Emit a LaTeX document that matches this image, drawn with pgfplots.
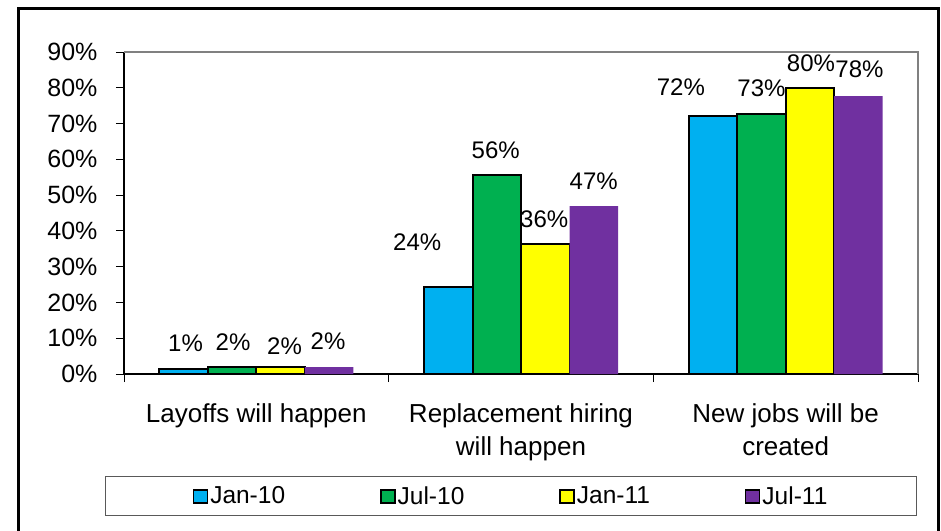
\documentclass[border=0pt]{standalone}
\usepackage{fontspec}
\setmainfont{Liberation Sans}
\usepackage{pgfplots}
\usepackage{pgfplotstable}
\pgfplotsset{compat=1.18}

\definecolor{cJanTen}{HTML}{00B0F0}
\definecolor{cJulTen}{HTML}{00B050}
\definecolor{cJanEleven}{HTML}{FFFF00}
\definecolor{cJulEleven}{HTML}{7030A0}

% x = category, y = share, lbl = printed value, dx/dy = label offset (pt) from bar top
\pgfplotstableread{
x y lbl dx dy
0 1.3 1 2 26
1 24.3 24 -31 45
2 72.1 72 -32 29
}\janten
\pgfplotstableread{
x y lbl dx dy
0 2.0 2 1 25
1 55.6 56 -1 25
2 72.7 73 0 26
}\julten
\pgfplotstableread{
x y lbl dx dy
0 2.0 2 4 21
1 36.3 36 -1 25
2 79.9 80 1 25
}\janeleven
\pgfplotstableread{
x y lbl dx dy
0 1.9 2 -1 26
1 46.9 47 0 25
2 77.7 78 1 27
}\juleleven

\begin{document}
\begin{tikzpicture}
\path[use as bounding box] (0pt,0pt) rectangle (941pt,530pt);
\begin{axis}[
    at={(124pt,156pt)}, anchor=south west,
    scale only axis,
    width=794pt, height=322pt,
    xmin=-0.5, xmax=2.5,
    ymin=0, ymax=90,
    axis x line=bottom, axis y line=left,
    axis line style={-, black, line width=1.5pt},
    ybar=0pt, bar width=48.5pt,
    xtick={-0.5,0.5,1.5,2.5},
    x tick label as interval,
    xticklabels={{Layoffs will happen},{Replacement hiring\\will happen},{New jobs will be\\created}},
    ytick={0,10,...,90},
    yticklabel={\pgfmathprintnumber{\tick}\%},
    /pgf/number format/assume math mode=true,
    tick align=outside,
    major tick length=8pt,
    tick style={black, line width=0.8pt},
    yticklabel style={font=\fontsize{25}{30}\selectfont, xshift=-15pt},
    xticklabel style={align=center, font=\fontsize{26}{33}\selectfont, yshift=-18pt},
    clip=false,
    point meta=explicit,
    nodes near coords={\pgfmathprintnumber{\pgfplotspointmeta}\%},
    visualization depends on={\thisrow{dx} \as \labeldx},
    visualization depends on={\thisrow{dy} \as \labeldy},
    every node near coord/.append style={anchor=center, text=black,
        font=\fontsize{24}{28}\selectfont, xshift=\labeldx, yshift=\labeldy},
    legend columns=4,
    legend image code/.code={\draw[#1, line width=1.5pt] (0pt,-7pt) rectangle (14pt,6pt);},
    legend style={at={(0.4875,-0.379)}, anchor=center, font=\fontsize{24.5}{29}\selectfont,
        draw=black!65, line width=1.2pt, inner xsep=87pt, inner ysep=8pt,
        /tikz/every even column/.append style={column sep=93pt}},
    after end axis/.code={
        \draw[gray, line width=2pt] (rel axis cs:0,1) -- (rel axis cs:1,1) -- (rel axis cs:1,0);
    },
]
\addplot[fill=cJanTen, draw=black, line width=2pt] table[x=x, y=y, meta=lbl] {\janten};
\addlegendentry{Jan-10}
\addplot[fill=cJulTen, draw=black, line width=2pt] table[x=x, y=y, meta=lbl] {\julten};
\addlegendentry{Jul-10}
\addplot[fill=cJanEleven, draw=black, line width=2pt] table[x=x, y=y, meta=lbl] {\janeleven};
\addlegendentry{Jan-11}
\addplot[fill=cJulEleven, draw=none] table[x=x, y=y, meta=lbl] {\juleleven};
\addlegendentry{Jul-11}
\end{axis}
\draw[line width=3pt] (18.5pt,-10pt) -- (18.5pt,521.7pt) -- (938pt,521.7pt) -- (938pt,-10pt);
\end{tikzpicture}
\end{document}
